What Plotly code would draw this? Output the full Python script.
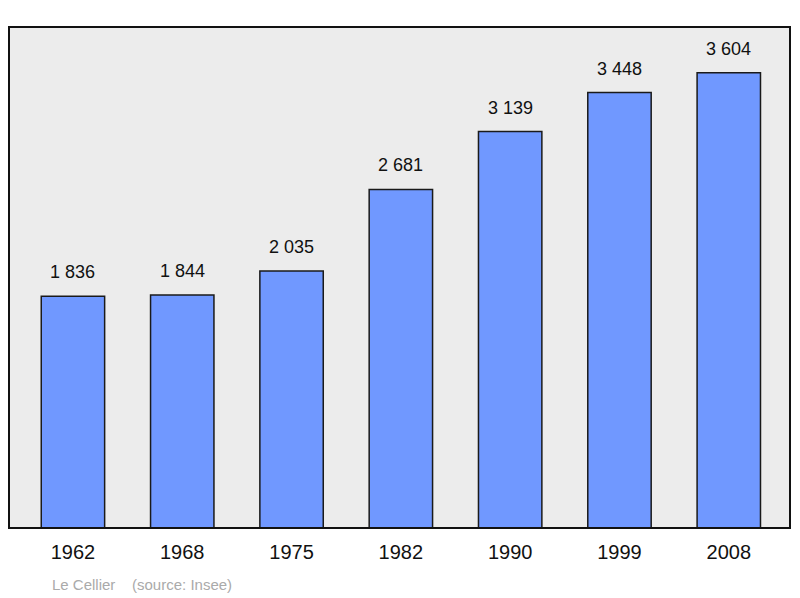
import plotly.graph_objects as go

years = ["1962", "1968", "1975", "1982", "1990", "1999", "2008"]
population = [1836, 1844, 2035, 2681, 3139, 3448, 3604]
labels = ["1 836", "1 844", "2 035", "2 681", "3 139", "3 448", "3 604"]

xs = list(range(len(years)))
fig = go.Figure(go.Bar(
    x=xs, y=population, width=0.58,
    marker=dict(color="#7098ff", line=dict(color="#1a1a1a", width=1.5)),
))
annots = [dict(x=x, y=v, text=t, showarrow=False, yanchor="bottom", yshift=12,
               font=dict(family="Liberation Sans", size=18, color="#111"))
          for x, v, t in zip(xs, population, labels)]
annots.append(dict(text="Le Cellier    (source: Insee)", xref="paper", yref="paper",
                   x=0.052, y=-0.112, xanchor="left", yanchor="middle", showarrow=False,
                   font=dict(family="Liberation Sans", size=15, color="#aaaaaa")))
fig.update_layout(
    width=792, height=590,
    margin=dict(l=1, r=10, t=19, b=70),
    paper_bgcolor="white", plot_bgcolor="#ececec",
    showlegend=False,
    xaxis=dict(range=[-0.585, 6.56], tickvals=xs, ticktext=years,
               showgrid=False, zeroline=False, ticks="", ticklabelstandoff=10,
               tickfont=dict(family="Liberation Sans", size=20, color="#111")),
    yaxis=dict(range=[0, 3967], showgrid=False, zeroline=False, showticklabels=False),
    shapes=[dict(type="rect", xref="paper", yref="paper", x0=0, x1=1, y0=0, y1=1,
                 line=dict(color="#111", width=2))],
    annotations=annots,
)
fig.write_html("out.html")
